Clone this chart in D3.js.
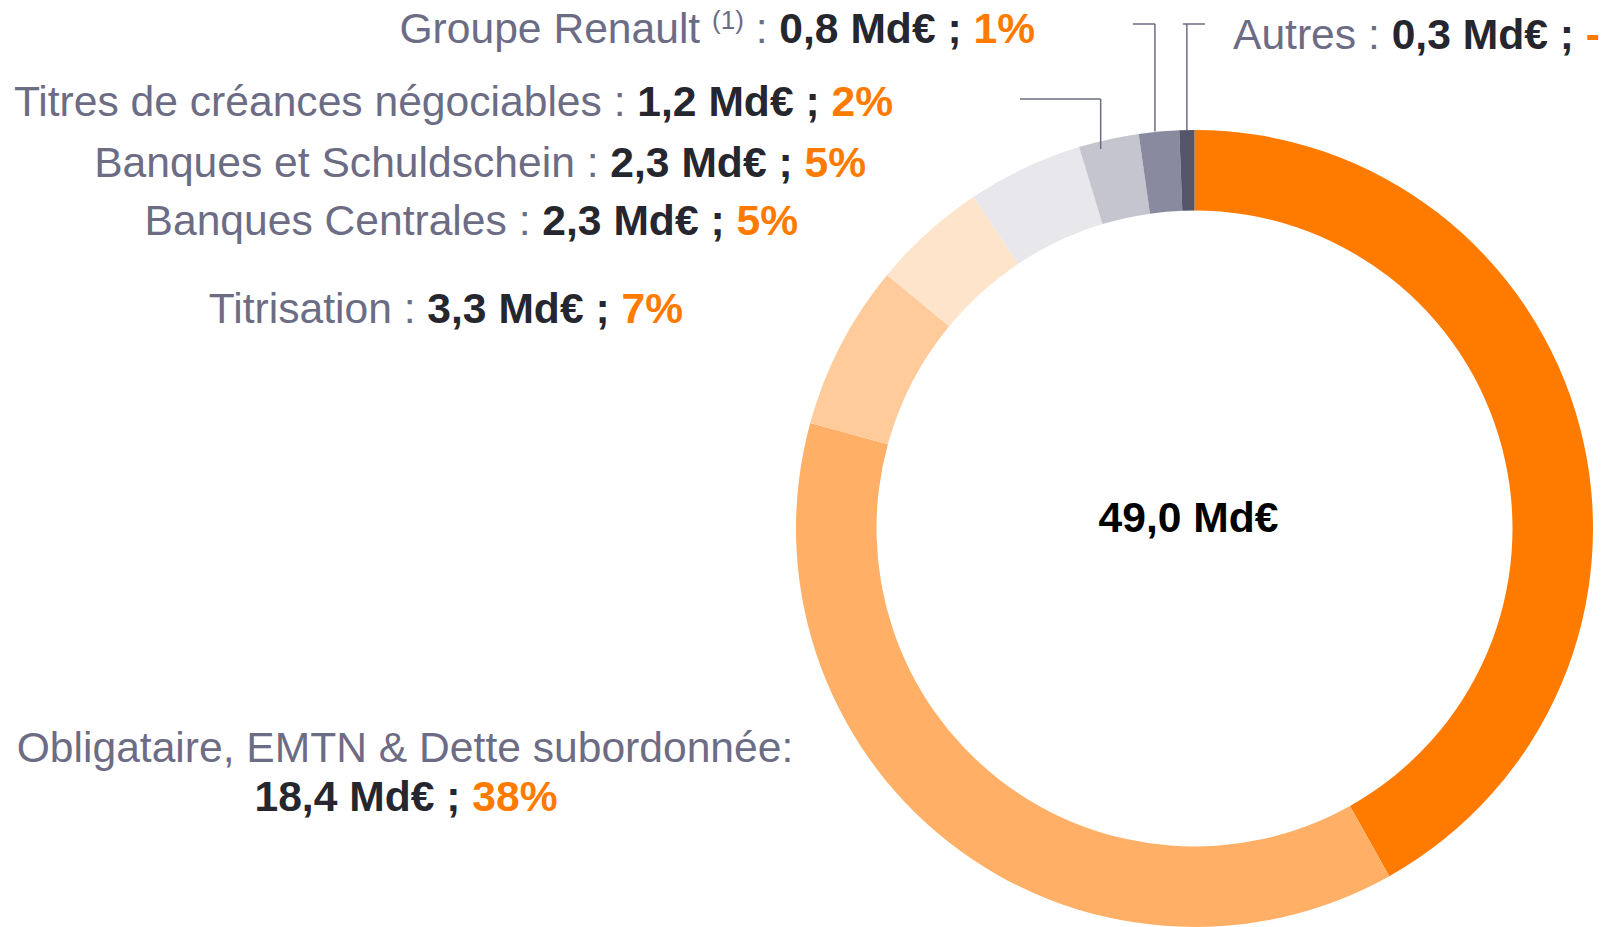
<!DOCTYPE html>
<html lang="fr">
<head>
<meta charset="UTF-8">
<title>Sources de financement</title>
<script src="https://d3js.org/d3.v7.min.js"></script>
<style>
    body { margin: 0; background: #fff; }
    svg { font-family: "Liberation Sans", Arial, Helvetica, sans-serif; display: block; }
</style>
</head>
<body>
<div id="chart"></div>
<script>
    // data
    var categories = ["Dépôts", "Obligataire, EMTN & Dette subordonnée", "Titrisation",
                      "Banques Centrales", "Banques et Schuldschein",
                      "Titres de créances négociables", "Groupe Renault", "Autres"];
    var values = [20.6, 18.4, 3.3, 2.3, 2.3, 1.2, 0.8, 0.3];
    var valueLabels = ["20,6 Md€", "18,4 Md€", "3,3 Md€", "2,3 Md€", "2,3 Md€", "1,2 Md€", "0,8 Md€", "0,3 Md€"];
    var pctLabels = ["42%", "38%", "7%", "5%", "5%", "2%", "1%", "-"];
    var totalLabel = "49,0 Md€";
    var colors = ["#ff7b00", "#ffaf66", "#ffcb9b", "#fee4cb", "#e7e7ec", "#c5c5cf", "#898aa0", "#555569"];

    var width = 1604, height = 927;
    var cx = 1194.5, cy = 528.5, rOuter = 398.5, rInner = 318;
    var fontSize = 42.6;
    var grey = "#6c6c85", dark = "#26262f", orange = "#ff7b00";

    var svg = d3.select("#chart").append("svg")
        .attr("width", width)
        .attr("height", height);

    var pie = d3.pie().sort(null).value(d => d);
    var arcs = pie(values);
    var arc = d3.arc().innerRadius(rInner).outerRadius(rOuter);

    var g = svg.append("g").attr("transform", `translate(${cx},${cy})`);
    g.selectAll("path")
        .data(arcs)
        .join("path")
        .attr("d", arc)
        .attr("fill", (d, i) => colors[i]);

    // total in the middle
    g.append("text")
        .attr("x", -6)
        .attr("y", 3)
        .attr("text-anchor", "middle")
        .attr("font-size", fontSize)
        .attr("font-weight", "bold")
        .attr("fill", "#000")
        .text(totalLabel);

    // label placement (index into categories, anchor, x, baseline)
    var labelPos = [
        { i: 2, anchor: "end", x: 683, y: 323 },
        { i: 3, anchor: "end", x: 798, y: 235 },
        { i: 4, anchor: "end", x: 866, y: 177 },
        { i: 5, anchor: "end", x: 893, y: 116 },
        { i: 6, anchor: "end", x: 1035, y: 43, sup: "(1)" },
        { i: 7, anchor: "start", x: 1233, y: 49 }
    ];

    labelPos.forEach(p => {
        var t = svg.append("text")
            .attr("x", p.x)
            .attr("y", p.y)
            .attr("text-anchor", p.anchor)
            .attr("font-size", fontSize);
        t.append("tspan").attr("fill", grey).text(categories[p.i]);
        if (p.sup) {
            t.append("tspan").attr("fill", grey).text(" ");
            t.append("tspan").attr("fill", grey).attr("font-size", 26).attr("dy", -14).text(p.sup);
            t.append("tspan").attr("fill", grey).attr("dy", 14).text(" : ");
        } else {
            t.append("tspan").attr("fill", grey).text(" : ");
        }
        t.append("tspan").attr("fill", dark).attr("font-weight", "bold").text(valueLabels[p.i] + " ; ");
        t.append("tspan").attr("fill", orange).attr("font-weight", "bold").text(pctLabels[p.i]);
    });

    // two-line label for the bond segment
    var ob = svg.append("text")
        .attr("text-anchor", "middle")
        .attr("font-size", fontSize);
    ob.append("tspan").attr("x", 405).attr("y", 762).attr("fill", grey).text(categories[1] + ":");
    var ob2 = ob.append("tspan").attr("x", 406).attr("y", 811);
    ob2.append("tspan").attr("fill", dark).attr("font-weight", "bold").text(valueLabels[1] + " ; ");
    ob2.append("tspan").attr("fill", orange).attr("font-weight", "bold").text(pctLabels[1]);

    // leader lines for the thin segments
    var leaders = [
        { i: 5, y: 99, x0: 1020, dx: -8, dr: 10 },
        { i: 6, y: 24, x0: -22, dx: -4, dr: 0 },
        { i: 7, y: 24, x0: -4, x1: 18, dx: 0, dr: 0 }
    ];
    leaders.forEach(l => {
        var d = arcs[l.i];
        var a = (d.startAngle + d.endAngle) / 2;
        var x = cx + rOuter * Math.sin(a) + l.dx;
        var yEnd = cy - (rOuter - l.dr) * Math.cos(a);
        var xa = l.x0 > 0 ? l.x0 : x + l.x0;
        var xb = l.x1 ? x + l.x1 : x;
        var path = d3.path();
        path.moveTo(xa, l.y);
        path.lineTo(xb, l.y);
        path.moveTo(x, l.y);
        path.lineTo(x, yEnd);
        svg.append("path")
            .attr("d", path.toString())
            .attr("fill", "none")
            .attr("stroke", grey)
            .attr("stroke-width", 1.5);
    });
</script>
</body>
</html>
